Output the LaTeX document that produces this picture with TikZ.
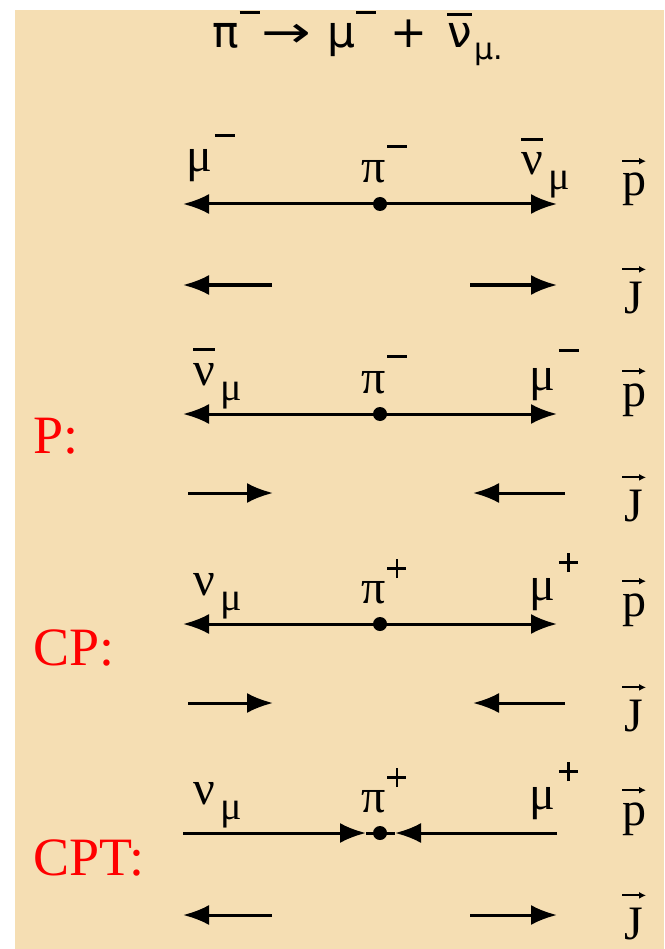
\documentclass[tikz,border=0pt]{standalone}
\usepackage{fontspec}
\setmainfont{Liberation Serif}
\newfontfamily\titlefont{DejaVu Sans}
\usetikzlibrary{arrows.meta}
\definecolor{bgtan}{RGB}{245,222,179}
\definecolor{lblred}{RGB}{255,0,0}
\newcommand{\supminus}[2]{\kern#1\raisebox{#2}{\rule{20pt}{2.6pt}}}
\newcommand{\supplus}[2]{\kern#1\raisebox{#2}{\rlap{\rule[8pt]{19pt}{2.6pt}}\kern8.2pt\rule{2.6pt}{19pt}\kern8.2pt}}
\newcommand{\barnu}[1]{\setbox0\hbox{ν}\rlap{\raisebox{#1}{\rule{\wd0}{2.6pt}}}\copy0}
\newcommand{\submu}[2]{\kern#1\raisebox{#2}{\fontsize{40}{40}\selectfont μ}}
\newcommand{\tminus}{\kern1pt\raisebox{34pt}{\rule{20pt}{3pt}}}
\begin{document}
\begin{tikzpicture}[x=1pt,y=-1pt,
  lab/.style={anchor=base west, inner sep=0pt, font=\fontsize{48}{48}\selectfont},
  vlab/.style={anchor=base, inner sep=0pt, font=\fontsize{48}{48}\selectfont},
  redlab/.style={anchor=base west, inner sep=0pt, text=lblred, font=\fontsize{54}{54}\selectfont},
  mom/.style={line width=3pt, -{Latex[length=26pt,width=20pt]}},
  vecarr/.style={line width=1.8pt, -{Latex[length=7pt,width=7pt]}},
  plainline/.style={line width=3pt},
  pdot/.style={circle, fill=black, inner sep=0pt, minimum size=14pt}]
\useasboundingbox (0,0) rectangle (664,949);
\fill[bgtan] (15,10) rectangle (664,949);
% title
\node[anchor=base west, inner sep=0pt, font=\titlefont\fontsize{44}{44}\selectfont] (title) at (212,48)
  {π\tminus\kern2pt\scalebox{1.35}[1]{→}\kern16pt μ\tminus\kern14pt +\kern20pt \barnu{32pt}\kern3pt\raisebox{-12pt}{\fontsize{30}{30}\selectfont μ.}};
% ---------- row 1 ----------
\node[lab] (r1mu) at (186,172) {μ\supminus{3pt}{35pt}};
\node[lab] (r1pi) at (361,183) {π\supminus{2pt}{35pt}};
\node[lab] (r1nu) at (521,175) {\barnu{34pt}\submu{6pt}{-15pt}};
\node[pdot] (d1) at (380,204) {};
\coordinate (a1l) at (183,204); \coordinate (a1r) at (557,204);
\draw[mom] (d1.center) -- (a1l);
\draw[mom] (d1.center) -- (a1r);
\node[vlab] (p1) at (634,196) {p};
\draw[vecarr] ([xshift=-12pt,yshift=12pt]p1.north) -- ([xshift=12pt,yshift=12pt]p1.north);
\coordinate (j1a) at (272,285); \coordinate (j1b) at (183,285);
\coordinate (j1c) at (470,285); \coordinate (j1d) at (557,285);
\draw[mom] (j1a) -- (j1b);
\draw[mom] (j1c) -- (j1d);
\node[vlab] (J1) at (634,313) {J};
\draw[vecarr] ([xshift=-12pt,yshift=12pt]J1.north) -- ([xshift=12pt,yshift=12pt]J1.north);
% ---------- row 2 (P) ----------
\node[redlab] (P) at (33,453) {P:};
\node[lab] (r2nu) at (193,385) {\barnu{34pt}\submu{6pt}{-15pt}};
\node[lab] (r2pi) at (361,393) {π\supminus{2pt}{35pt}};
\node[lab] (r2mu) at (529,390) {μ\supminus{4pt}{38pt}};
\node[pdot] (d2) at (380,414) {};
\coordinate (a2l) at (183,414); \coordinate (a2r) at (557,414);
\draw[mom] (d2.center) -- (a2l);
\draw[mom] (d2.center) -- (a2r);
\node[vlab] (p2) at (634,406) {p};
\draw[vecarr] ([xshift=-12pt,yshift=12pt]p2.north) -- ([xshift=12pt,yshift=12pt]p2.north);
\coordinate (j2a) at (188,493); \coordinate (j2b) at (273,493);
\coordinate (j2c) at (565,493); \coordinate (j2d) at (473,493);
\draw[mom] (j2a) -- (j2b);
\draw[mom] (j2c) -- (j2d);
\node[vlab] (J2) at (634,521) {J};
\draw[vecarr] ([xshift=-12pt,yshift=12pt]J2.north) -- ([xshift=12pt,yshift=12pt]J2.north);
% ---------- row 3 (CP) ----------
\node[redlab] (CP) at (33,665) {CP:};
\node[lab] (r3nu) at (193,595) {ν\submu{6pt}{-15pt}};
\node[lab] (r3pi) at (361,603) {π\supplus{2pt}{25pt}};
\node[lab] (r3mu) at (529,600) {μ\supplus{4pt}{28pt}};
\node[pdot] (d3) at (380,624) {};
\coordinate (a3l) at (183,624); \coordinate (a3r) at (557,624);
\draw[mom] (d3.center) -- (a3l);
\draw[mom] (d3.center) -- (a3r);
\node[vlab] (p3) at (634,616) {p};
\draw[vecarr] ([xshift=-12pt,yshift=12pt]p3.north) -- ([xshift=12pt,yshift=12pt]p3.north);
\coordinate (j3a) at (188,703); \coordinate (j3b) at (273,703);
\coordinate (j3c) at (565,703); \coordinate (j3d) at (473,703);
\draw[mom] (j3a) -- (j3b);
\draw[mom] (j3c) -- (j3d);
\node[vlab] (J3) at (634,731) {J};
\draw[vecarr] ([xshift=-12pt,yshift=12pt]J3.north) -- ([xshift=12pt,yshift=12pt]J3.north);
% ---------- row 4 (CPT) ----------
\node[redlab] (CPT) at (33,875) {CPT:};
\node[lab] (r4nu) at (193,804) {ν\submu{6pt}{-15pt}};
\node[lab] (r4pi) at (361,812) {π\supplus{2pt}{25pt}};
\node[lab] (r4mu) at (529,809) {μ\supplus{4pt}{28pt}};
\coordinate (a4l) at (183,833); \coordinate (a4r) at (557,833);
\coordinate (t4l) at (366,833); \coordinate (t4r) at (395,833);
\draw[plainline] (t4l) -- (t4r);
\draw[mom] (a4l) -- (t4l);
\draw[mom] (a4r) -- (t4r);
\node[pdot] (d4) at (380,833) {};
\node[vlab] (p4) at (634,825) {p};
\draw[vecarr] ([xshift=-12pt,yshift=12pt]p4.north) -- ([xshift=12pt,yshift=12pt]p4.north);
\coordinate (j4a) at (272,915); \coordinate (j4b) at (183,915);
\coordinate (j4c) at (470,915); \coordinate (j4d) at (557,915);
\draw[mom] (j4a) -- (j4b);
\draw[mom] (j4c) -- (j4d);
\node[vlab] (J4) at (634,939) {J};
\draw[vecarr] ([xshift=-12pt,yshift=12pt]J4.north) -- ([xshift=12pt,yshift=12pt]J4.north);
\end{tikzpicture}
\end{document}
